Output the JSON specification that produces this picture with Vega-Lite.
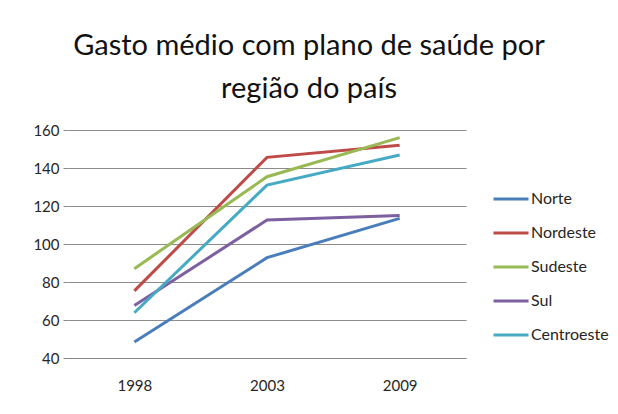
{
  "$schema": "https://vega.github.io/schema/vega-lite/v6.json",
  "width": 398,
  "height": 228,
  "autosize": {"type": "none"},
  "padding": {"left": 68, "top": 130, "right": 152, "bottom": 56},
  "background": "white",
  "config": {
    "font": "Lato",
    "view": {"stroke": null}
  },
  "title": {
    "text": ["Gasto médio com plano de saúde por", "região do país"],
    "font": "Lato",
    "fontSize": 29,
    "fontWeight": "normal",
    "color": "#111111",
    "anchor": "middle",
    "dx": 42,
    "offset": 19,
    "lineHeight": 43
  },
  "data": {
    "values": [
      {"ano": "1998", "regiao": "Norte", "valor": 48.4},
      {"ano": "2003", "regiao": "Norte", "valor": 92.8},
      {"ano": "2009", "regiao": "Norte", "valor": 113.5},
      {"ano": "1998", "regiao": "Nordeste", "valor": 75.3},
      {"ano": "2003", "regiao": "Nordeste", "valor": 145.6},
      {"ano": "2009", "regiao": "Nordeste", "valor": 152},
      {"ano": "1998", "regiao": "Sudeste", "valor": 87},
      {"ano": "2003", "regiao": "Sudeste", "valor": 135.4},
      {"ano": "2009", "regiao": "Sudeste", "valor": 156},
      {"ano": "1998", "regiao": "Sul", "valor": 67.6},
      {"ano": "2003", "regiao": "Sul", "valor": 112.6},
      {"ano": "2009", "regiao": "Sul", "valor": 115},
      {"ano": "1998", "regiao": "Centroeste", "valor": 63.8},
      {"ano": "2003", "regiao": "Centroeste", "valor": 131},
      {"ano": "2009", "regiao": "Centroeste", "valor": 146.8}
    ]
  },
  "mark": {"type": "line", "strokeWidth": 3},
  "encoding": {
    "x": {
      "field": "ano", "type": "ordinal",
      "scale": {"type": "point", "padding": 0.5},
      "axis": {"title": null, "labelAngle": 0, "grid": false, "ticks": false, "labelPadding": 20, "domain": true,
        "domainColor": "#888888", "labelFont": "Lato", "labelFontSize": 15, "labelColor": "#262626"}
    },
    "y": {
      "field": "valor", "type": "quantitative",
      "scale": {"domain": [40, 160], "nice": false, "zero": false},
      "axis": {"title": null, "values": [40, 60, 80, 100, 120, 140, 160], "grid": true, "domain": false, "tickSize": 5, "labelPadding": 4,
        "gridColor": "#8c8c8c", "tickColor": "#888888", "labelFont": "Lato", "labelFontSize": 15, "labelColor": "#262626"}
    },
    "color": {
      "field": "regiao", "type": "nominal",
      "scale": {"domain": ["Norte", "Nordeste", "Sudeste", "Sul", "Centroeste"], "range": ["#4A7EBB", "#BE4B48", "#98B954", "#7D60A0", "#46AAC5"]},
      "legend": {
        "title": null, "orient": "none", "legendX": 424, "legendY": 50,
        "symbolType": "stroke", "symbolSize": 1225, "symbolStrokeWidth": 3,
        "labelFont": "Lato", "labelFontSize": 16, "labelColor": "#262626", "labelOffset": 1, "rowPadding": 7
      }
    }
  }
}
